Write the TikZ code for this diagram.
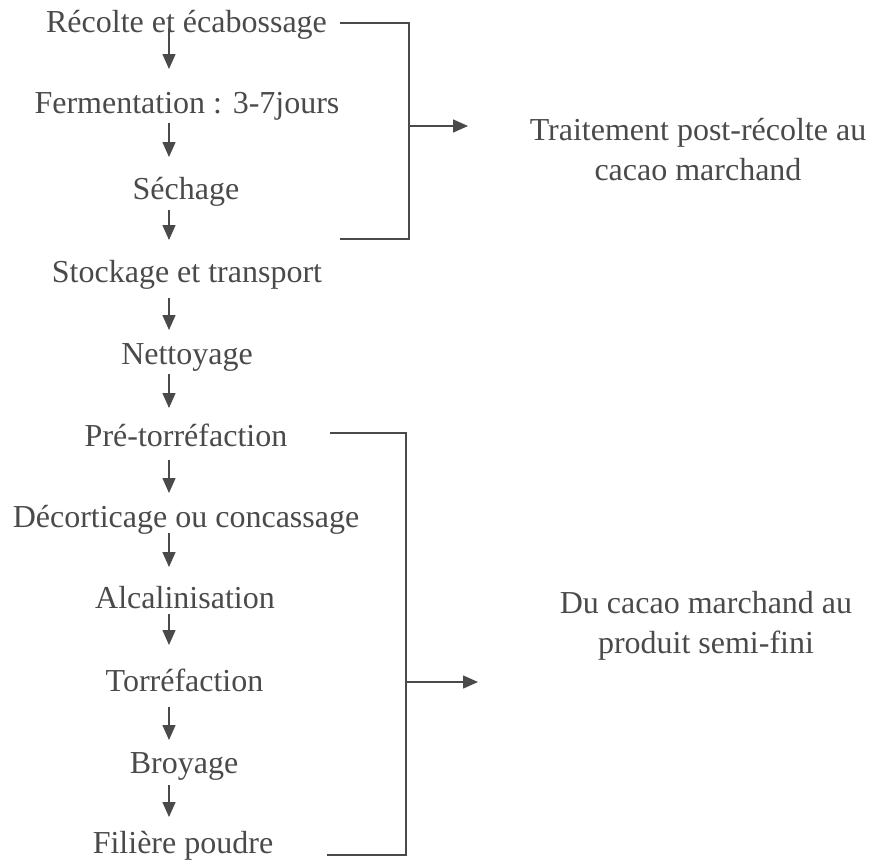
\documentclass[tikz,border=0pt]{standalone}
\usepackage{fontspec}
\setmainfont{Liberation Serif}
\usetikzlibrary{arrows.meta,calc}
\definecolor{ink}{HTML}{4A4A4A}

\begin{document}
\begin{tikzpicture}[x=1pt,y=-1pt,
  etape/.style={anchor=base, inner sep=0pt, text=ink, font=\fontsize{32}{40}\selectfont},
  bloc/.style={anchor=center, inner sep=0pt, align=center, text=ink, font=\fontsize{32}{40}\selectfont},
  fleche/.style={draw=ink, line width=1.5pt, -{Triangle[length=15pt,width=13pt]}},
  trait/.style={draw=ink, line width=1.5pt}]
\useasboundingbox (0,0) rectangle (883,860);

\coordinate (X) at (169,0);
\coordinate (A) at (186.5,32);
\coordinate (B) at (187,113);
\coordinate (C) at (186,199);
\coordinate (D) at (187,282);
\coordinate (E) at (187,364);
\coordinate (F) at (186,446);
\coordinate (G) at (186,527);
\coordinate (H) at (185,608);
\coordinate (I) at (184.5,691);
\coordinate (J) at (184,773);
\coordinate (K) at (183,853);

% crochets
\coordinate (P1) at (340,23);
\coordinate (P2) at (409,23);
\coordinate (P3) at (409,239);
\coordinate (P4) at (340,239);
\coordinate (P5) at (409,126);
\coordinate (P6) at (468,126);
\coordinate (Q1) at (330,433);
\coordinate (Q2) at (406,433);
\coordinate (Q3) at (406,855);
\coordinate (Q4) at (327,855);
\coordinate (Q5) at (406,682);
\coordinate (Q6) at (478,682);

\node (rec) [etape] at (A) {Récolte et écabossage};
\node (fer) [etape] at (B) {Fermentation : 3-7jours};
\node (sec) [etape] at (C) {Séchage};
\node (sto) [etape] at (D) {Stockage et transport};
\node (net) [etape] at (E) {Nettoyage};
\node (pre) [etape] at (F) {Pré-torréfaction};
\node (dec) [etape] at (G) {Décorticage ou concassage};
\node (alc) [etape] at (H) {Alcalinisation};
\node (tor) [etape] at (I) {Torréfaction};
\node (bro) [etape] at (J) {Broyage};
\node (fil) [etape] at (K) {Filière poudre};

\node (trait) [bloc] at (698,150) {Traitement post-récolte au\\cacao marchand};
\node (semi) [bloc] at (706,626) {Du cacao marchand au\\produit semi-fini};

\draw [fleche] ($(rec.base -| X)+(0,-4)$) -- ($(fer.base -| X)+(0,-44)$);
\draw [fleche] ($(fer.base -| X)+(0,10)$) -- ($(sec.base -| X)+(0,-42)$);
\draw [fleche] ($(sec.base -| X)+(0,11)$) -- ($(sto.base -| X)+(0,-42)$);
\draw [fleche] ($(sto.base -| X)+(0,16)$) -- ($(net.base -| X)+(0,-34)$);
\draw [fleche] ($(net.base -| X)+(0,10)$) -- ($(pre.base -| X)+(0,-38)$);
\draw [fleche] ($(pre.base -| X)+(0,14)$) -- ($(dec.base -| X)+(0,-34)$);
\draw [fleche] ($(dec.base -| X)+(0,6)$) -- ($(alc.base -| X)+(0,-41)$);
\draw [fleche] ($(alc.base -| X)+(0,6)$) -- ($(tor.base -| X)+(0,-46)$);
\draw [fleche] ($(tor.base -| X)+(0,16)$) -- ($(bro.base -| X)+(0,-33)$);
\draw [fleche] ($(bro.base -| X)+(0,12)$) -- ($(fil.base -| X)+(0,-36)$);

\draw [trait] (P1)--(P2)--(P3)--(P4);
\draw [fleche] (P5)--(P6);
\draw [trait] (Q1)--(Q2)--(Q3)--(Q4);
\draw [fleche] (Q5)--(Q6);
\end{tikzpicture}
\end{document}
